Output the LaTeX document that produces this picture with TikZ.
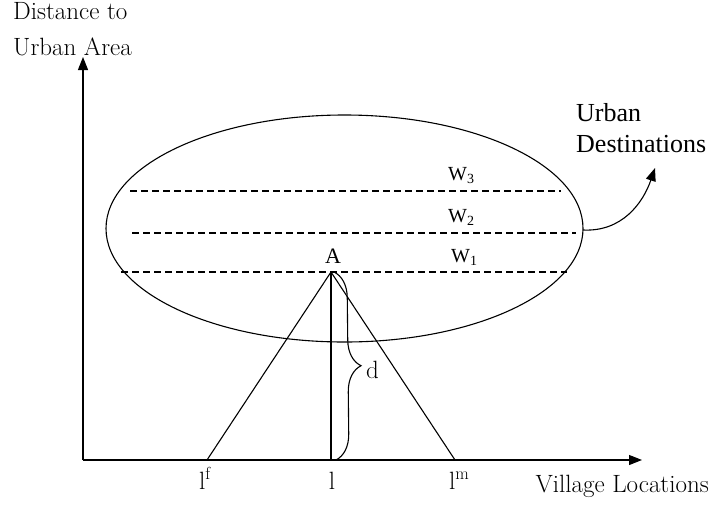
\documentclass[tikz,border=0pt]{standalone}
\usepackage{fontspec}
\newfontfamily\tms{Liberation Serif}
\usetikzlibrary{arrows.meta,decorations.pathreplacing,shapes.geometric}
\begin{document}
\begin{tikzpicture}[x=1pt,y=-1pt,
  line/.style={line width=1.1pt,draw=black},
  arr/.style={line, -{Triangle[length=13pt,width=10pt]}},
  dashln/.style={line, dash pattern=on 7pt off 4pt},
  txt/.style={inner sep=0pt, font=\fontsize{25}{28}\selectfont},
  ttxt/.style={inner sep=0pt, font=\tms\fontsize{20}{24}\selectfont}]
\useasboundingbox[fill=white] (0,0) rectangle (714,504);
% axes
\coordinate (O) at (83,460);
\coordinate (ytip) at (83,57);
\coordinate (xtip) at (642,460);
\draw[arr] (O) -- (ytip);
\draw[arr] (O) -- (xtip);
% ellipse
\node[line, ellipse, minimum width=477pt, minimum height=227pt, inner sep=0pt, draw] (E) at (344.5,228.5) {};
% dashed lines
\coordinate (w3a) at (130,191); \coordinate (w3b) at (561,191);
\coordinate (w2a) at (132,233); \coordinate (w2b) at (576,233);
\coordinate (w1a) at (121,272); \coordinate (w1b) at (567,272);
\draw[dashln] (w3a) -- (w3b);
\draw[dashln] (w2a) -- (w2b);
\draw[dashln] (w1a) -- (w1b);
\node[ttxt, anchor=base west] (W3) at (448,180) {W\textsubscript{3}};
\node[ttxt, anchor=base west] (W2) at (448,222) {W\textsubscript{2}};
\node[ttxt, anchor=base west] (W1) at (451,262) {W\textsubscript{1}};
% triangle
\coordinate (apex) at (331,272);
\coordinate (lfp) at (207,460);
\coordinate (lp) at (331,460);
\coordinate (lmp) at (455,460);
\draw[line, line join=miter] (lfp) -- (apex) -- (lmp);
\draw[line] (apex) -- (lp);
\node[ttxt, font=\tms\fontsize{22}{24}\selectfont, anchor=base] (A) at (333,263) {A};
% brace
\coordinate (b1) at (334,272);
\coordinate (b2) at (336,460);
\draw[line, decorate, decoration={brace, amplitude=26pt, aspect=0.5}] (b1) -- (b2);
\node[txt, anchor=base west] (d) at (366,378) {d};
% axis labels
\node[txt, anchor=base west] (dist1) at (13,19) {Distance to};
\node[txt, anchor=base west] (dist2) at (13,55) {Urban Area};
\node[txt, anchor=base east] (vl) at (709,492) {Village Locations};
\node[txt, anchor=base west] (lf) at (199,489) {l\textsuperscript{f}};
\node[txt, anchor=base] (l) at (332,489) {l};
\node[txt, anchor=base west] (lm) at (449,489) {l\textsuperscript{m}};
% urban destinations
\node[ttxt, font=\tms\fontsize{26}{28}\selectfont, anchor=base west] (ud1) at (576,121) {Urban};
\node[ttxt, font=\tms\fontsize{26}{28}\selectfont, anchor=base west] (ud2) at (576,152) {Destinations};
\coordinate (cs) at (583,230);
\coordinate (ce) at (655,168);
\draw[arr] (cs) .. controls (622,232) and (643,203) .. (ce);
\end{tikzpicture}
\end{document}
